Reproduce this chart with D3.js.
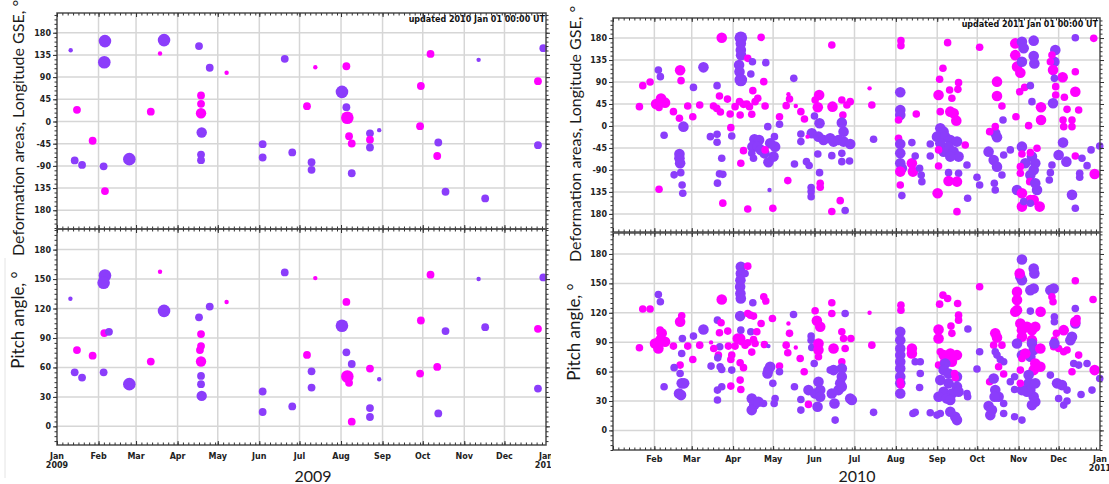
<!DOCTYPE html>
<html>
<head>
<meta charset="utf-8">
<script src="https://cdn.jsdelivr.net/npm/d3@7"></script>
<style>
body { margin: 0; background: #fff; }
svg { display: block; }
</style>
</head>
<body>
<script>
// tick values / labels
var lonTicks = [180, 135, 90, 45, 0, -45, -90, -135, -180];
var lonTickLabels = ["180", "135", "90", "45", "0", "-45", "-90", "135", "180"];
var pitchTicks = [180, 150, 120, 90, 60, 30, 0];
var pitchTickLabels = ["180", "150", "120", "90", "60", "30", "0"];

// points: [day of year, value, size class, type]  p = purple, m = magenta
var lon2009 = [
  [10.2,144.5,1,'p'],[35.8,163,4,'p'],[35.3,120,4,'p'],[76.9,138,1,'m'],[79.9,165,4,'p'],
  [106,153,2,'p'],[114,109,2,'p'],[126.6,98.7,1,'m'],[170,127,2,'p'],[14.9,23.7,2,'m'],
  [70,20,2,'m'],[107.5,52.7,2,'m'],[107.5,35.9,2,'m'],[107.5,16.8,3,'m'],[108,-22.3,3,'p'],
  [107.5,-67,2,'p'],[107.5,-78.4,2,'p'],[26.6,-39,2,'m'],[13.2,-79,2,'p'],[18.7,-88,2,'p'],
  [34.8,-91,2,'p'],[54,-76.4,4,'p'],[35.8,-141,2,'m'],[153.5,-46,2,'p'],[153.5,-73,2,'p'],
  [175.6,-62.8,2,'p'],[192.8,110,1,'m'],[216,112,2,'m'],[212.7,60,4,'p'],[216,29,2,'p'],
  [216.7,7.5,4,'m'],[218,-29.7,2,'m'],[220,-44.6,2,'m'],[186.6,31,2,'m'],[190,-82.5,2,'p'],
  [190,-98,2,'p'],[220,-105,2,'p'],[233.6,-24,2,'p'],[233.6,-37,2,'m'],[233.6,-52.7,2,'p'],
  [240.5,-17.6,1,'p'],[278.8,137,2,'m'],[271.6,72,2,'m'],[271,-9.5,2,'m'],[284.6,-42.6,2,'p'],
  [283.8,-70,2,'m'],[290,-142.5,2,'p'],[314.7,125,1,'p'],[319.6,-156,2,'p'],[363,148.6,2,'p'],
  [359,81.7,2,'m'],[359,-48,2,'p']
];
var pitch2009 = [
  [10,130,1,'p'],[14.9,77.7,2,'m'],[13.2,55,2,'p'],[18.7,49.7,2,'p'],[26.6,72,2,'m'],
  [35.8,153.7,4,'p'],[34.8,146.3,4,'p'],[35.3,95,2,'m'],[38.8,96.3,2,'p'],[34.8,55,2,'p'],
  [76.9,157.5,1,'m'],[79.9,117.6,4,'p'],[70,66,2,'m'],[54,43,4,'p'],[106,111,2,'p'],
  [114,122,2,'p'],[126.6,126.7,1,'m'],[107.5,94,2,'m'],[107.5,81.8,2,'m'],[106.7,77.7,2,'m'],
  [107.5,66,3,'m'],[107.5,51.4,2,'p'],[107.5,43,2,'p'],[108,31,3,'p'],[153.5,35.5,2,'p'],
  [153.5,14.6,2,'p'],[170,156.8,2,'p'],[175.6,20.3,2,'p'],[192.8,151,1,'m'],[216,126.7,2,'m'],
  [212.7,102.4,4,'p'],[216,75.4,2,'p'],[220,63.5,2,'p'],[216.7,50.7,4,'m'],[218,44.3,2,'m'],
  [220,4.8,2,'m'],[186.6,72.7,2,'m'],[190,56,2,'p'],[190,39.5,2,'p'],[233.6,58.8,2,'m'],
  [240.5,48,1,'p'],[233.6,18.6,2,'p'],[233.6,9.5,2,'p'],[278.8,154.5,2,'m'],[271.6,107.8,2,'m'],
  [271,53.7,2,'m'],[283.8,60.5,2,'m'],[290,97,2,'p'],[284.6,13.2,2,'p'],[314.7,150,1,'p'],
  [319.6,101,2,'p'],[363,151.7,2,'p'],[359,99.3,2,'m'],[359,38.5,2,'p']
];
var lon2010 = [
  [19.8,39.6,2,'m'],[22.3,82.5,2,'m'],[27.8,90,2,'m'],[34,114.6,2,'p'],[35.5,101,2,'p'],
  [32.3,45,3,'m'],[36,56,3,'m'],[39,47.7,3,'m'],[34.5,38,2,'m'],[34.5,-129.6,2,'m'],
  [38.3,-19,2,'p'],[45.3,29.3,2,'m'],[50.3,114,3,'m'],[51,92.8,2,'m'],[49.8,15.7,2,'m'],
  [52.8,-1.4,3,'p'],[49.8,-57.3,3,'p'],[49.8,-66,3,'p'],[50.3,-76.4,3,'p'],[45.8,-100,2,'p'],
  [50.8,-95.5,2,'p'],[51.8,-120.7,2,'p'],[52.3,-137.8,2,'p'],[56,41,2,'m'],[59.8,19,2,'m'],
  [60.3,79,2,'p'],[65,43,2,'m'],[67.8,120,3,'p'],[78,82.5,2,'p'],[79.8,61.4,2,'m'],
  [73,-21.8,2,'p'],[78,-17,2,'p'],[78,-33.4,2,'p'],[75.3,41,2,'m'],[77.8,36,2,'m'],
  [80.5,28.6,2,'m'],[82.3,-158,2,'m'],[81.5,-66,2,'p'],[79.8,-98,2,'p'],[82.3,-99,2,'p'],
  [78.3,-117,2,'p'],[85.8,55,2,'m'],[88.3,-3.4,2,'m'],[89,-20.5,2,'p'],[87.8,24.5,2,'m'],
  [91.5,39.6,2,'m'],[94.8,49.8,2,'m'],[97.8,44.3,2,'m'],[100.3,45,2,'m'],[102.3,39.6,2,'m'],
  [81.5,180.7,3,'m'],[95.8,180.7,4,'p'],[95.8,169,3,'p'],[95.8,155.5,3,'p'],[96,145,3,'p'],
  [94.5,124.8,3,'p'],[94.8,111,3,'p'],[95.8,94,4,'p'],[101,138.4,2,'m'],[104.5,131.6,2,'p'],
  [103.3,106.4,2,'p'],[111,181.4,2,'m'],[113,90.7,2,'m'],[114.5,129.6,2,'p'],[104.8,72.3,2,'m'],
  [108.5,56.6,2,'m'],[106.5,49.8,2,'m'],[114,41,2,'m'],[95.3,22.5,2,'m'],[104,23.9,2,'m'],
  [116,-1.4,2,'p'],[106,-27.3,3,'p'],[109.5,-28.6,3,'p'],[104.5,-42.3,3,'p'],[108.3,-42.3,3,'p'],
  [97.8,-50.5,2,'m'],[104,-56,2,'p'],[105.3,-66,2,'p'],[95.8,-76.4,2,'m'],[116.5,-74.3,3,'p'],
  [120.3,-62.7,3,'p'],[121.5,-42.3,3,'p'],[113.5,-56,3,'p'],[117.8,-35.5,3,'p'],[110.8,-49,3,'p'],
  [121,-21.8,2,'p'],[114,-49,2,'m'],[117.3,-131,1,'p'],[101,-170,2,'m'],[119.8,-168.5,2,'m'],
  [124.8,19,2,'m'],[124.8,3.4,2,'p'],[135.5,97.5,2,'p'],[129.8,41.6,2,'m'],[132.3,55.2,2,'m'],
  [131.5,64.8,1,'m'],[137,41,1,'m'],[140.8,29.3,2,'m'],[143.5,14.3,2,'m'],[136,-77.7,2,'p'],
  [131,-111.8,2,'m'],[140.8,-16.4,2,'p'],[140.8,-32,2,'p'],[145,-73,2,'p'],[147,-81,2,'p'],
  [148.5,-126,2,'p'],[148.5,-134,2,'p'],[148.5,-144.6,2,'p'],[154.5,63.4,3,'m'],[153.5,38.2,3,'m'],
  [151.5,53.2,2,'m'],[154.8,5.5,3,'p'],[151,20.5,2,'p'],[164.5,39.6,3,'m'],[164,165.7,2,'m'],
  [149,-15,3,'p'],[154,-21.8,3,'p'],[157.8,-28.6,3,'p'],[162.8,-25.2,3,'p'],[165.3,-32,3,'p'],
  [145.8,-21.8,1,'m'],[153.5,-57.3,2,'p'],[154.8,-95.5,2,'p'],[155.3,-117.3,2,'m'],[155.3,-125.5,2,'m'],
  [164,-60.7,2,'p'],[164,-175,2,'m'],[171.5,53.2,2,'m'],[175.3,43,2,'m'],[177.8,49.8,2,'m'],
  [172.3,22.5,2,'m'],[171.5,6.8,3,'p'],[172.8,-11.6,3,'p'],[169,-28.6,3,'p'],[172.8,-32,3,'p'],
  [177.8,-36.8,3,'p'],[171.5,-56,2,'p'],[171.5,-73,2,'p'],[177.3,-71.6,2,'p'],[170.3,-152.8,2,'m'],
  [174,-173,2,'p'],[192.3,77,1,'m'],[194,43,2,'m'],[195.3,-27.3,2,'p'],[215.8,174.6,2,'m'],
  [215.8,164.4,2,'m'],[215.3,68.9,3,'p'],[215.3,32.7,3,'p'],[215.3,22.5,3,'p'],[214,12.3,2,'m'],
  [227.3,24.5,2,'m'],[214,-25.2,2,'m'],[215.3,-36.8,3,'p'],[215.3,-56,3,'p'],[215.3,-76.4,3,'p'],
  [216.5,-86.6,3,'p'],[215.3,-93.4,3,'m'],[224,-76.4,3,'m'],[224.8,-93.4,3,'m'],[224,-34,2,'p'],
  [226.5,-61.4,2,'p'],[229.8,-86.6,2,'p'],[231,-100.3,2,'p'],[231.5,-113.9,2,'p'],[215.3,-120.7,2,'m'],
  [216.5,-142.5,2,'p'],[243.3,-137.8,3,'m'],[250.8,170.5,2,'m'],[247.3,118,2,'m'],[244.8,95.5,2,'m'],
  [244,63.4,3,'m'],[252.3,73.7,2,'m'],[259,88.7,2,'m'],[258.5,75,2,'m'],[254,56.6,2,'m'],
  [255.3,25.9,3,'m'],[257.3,10.9,3,'m'],[252.8,29.3,3,'m'],[245.3,29.3,2,'m'],
  [245.3,-4.8,3,'p'],[247.8,-11.6,3,'p'],[242.8,-21.8,3,'p'],[249,-21.8,3,'p'],[252.8,-28.6,3,'p'],
  [257.8,-32,3,'p'],[251.5,-42.3,3,'p'],[247.8,-52.5,3,'p'],[255.3,-52.5,3,'p'],[259,-62.7,3,'p'],
  [252.8,-62.7,3,'p'],[245.3,-35.5,3,'p'],[237.8,-36.8,2,'p'],[244,-49,2,'m'],[264,-38.9,2,'m'],
  [237.8,-61.4,2,'p'],[244,-81.8,2,'m'],[251.5,-95.5,2,'p'],[259,-96.8,2,'p'],[251.5,-112.5,3,'m'],
  [257.8,-113.9,3,'m'],[265.3,-79.8,2,'p'],[265.8,-148,2,'p'],[257.8,-175.3,2,'m'],[274.8,161,2,'m'],
  [272.8,-105,2,'p'],[274.8,-120.7,2,'p'],[281.5,-52.5,3,'p'],[286.5,-15,3,'p'],[287.8,-23.2,3,'p'],
  [285.3,-69.6,3,'p'],[287.8,-83.2,3,'p'],[282.3,-11.6,2,'m'],[287.8,90.7,3,'m'],[287.8,61.4,3,'m'],
  [286.5,-1.4,2,'m'],[291.5,41,2,'m'],[292.3,12.3,2,'p'],[292.8,-59.3,2,'p'],[297.8,-49,2,'p'],
  [285.8,-117.3,2,'p'],[286.5,-131,2,'p'],[291.5,-100.3,2,'p'],[302,19,2,'m'],[311.5,0.7,2,'m'],
  [301.5,169,3,'m'],[301.5,145,3,'m'],[302.8,121.4,3,'m'],[305.3,109,3,'m'],[306.5,172.5,3,'p'],
  [307.8,159,3,'p'],[315.3,174.6,3,'p'],[315.3,143,3,'p'],[315.8,128,3,'p'],[306.5,131.6,3,'p'],
  [304.8,70.2,2,'m'],[308.5,79,2,'m'],[312.8,82.5,2,'p'],[314,49.8,2,'p'],[320.8,38.2,3,'m'],
  [320.8,12.3,3,'m'],[306.5,-42.3,3,'p'],[314,-62.7,3,'p'],[316.5,-76.4,3,'p'],[315.3,-90,3,'p'],
  [312.8,-100.3,3,'p'],[309,-76.4,3,'p'],[306.5,-57.3,2,'m'],[312.8,-54.6,2,'m'],[317.8,-45.7,2,'m'],
  [305.3,-83.2,2,'m'],[305.3,-96.8,2,'m'],[312.3,-113.9,2,'m'],[302.8,-131,3,'p'],[306.5,-137.8,3,'m'],
  [306.5,-165,3,'m'],[312.8,-151.4,3,'m'],[319.8,-165,3,'m'],[315.3,-151.4,3,'m'],[317.8,-131,3,'p'],
  [316.5,-117.3,3,'p'],[307.8,-154.8,2,'p'],[312.8,-158.2,2,'p'],[331.5,155.5,3,'p'],[330.8,131.6,3,'p'],
  [329,145.3,2,'m'],[327.8,131.6,2,'m'],[329.8,114.6,3,'m'],[337,99.6,3,'m'],[330.8,97.5,2,'p'],
  [331.8,80.5,2,'m'],[331.8,63.4,2,'m'],[338.3,58.7,2,'m'],[346.5,111,2,'m'],[346.5,70.2,3,'m'],
  [329.8,46.4,3,'p'],[340.3,34,2,'m'],[349,32.7,2,'m'],[337.3,12.3,2,'m'],[344,12.3,2,'m'],
  [337.8,-1.4,2,'m'],[344,-1.4,2,'m'],[337.3,-34,3,'p'],[334,-59.3,3,'p'],[339.8,-73,3,'p'],
  [346.5,-61.4,2,'m'],[351.5,-66,2,'p'],[355.3,-81.2,2,'p'],[329,-79.8,2,'p'],[327.8,-95.5,2,'p'],
  [327,-110.5,2,'p'],[349.8,-96.8,2,'p'],[349.8,-105,2,'p'],[344,-141,3,'p'],[346.5,-168.5,2,'p'],
  [346.5,180.7,2,'p'],[360.3,179.4,2,'m'],[358.3,-49,2,'p'],[364.8,-41,2,'p'],[361,-98.2,3,'m']
];
var pitch2010 = [
  [19.8,84.3,2,'m'],[22.3,123.8,2,'m'],[27.8,123.8,2,'m'],[34,138.7,2,'p'],[35.5,131.2,2,'p'],
  [31.5,88.7,3,'m'],[35.3,92.1,3,'m'],[39,90.4,3,'m'],[34,83.6,3,'m'],[36.5,99,3,'m'],
  [35.3,102.3,2,'m'],[38.3,44.5,2,'p'],[45.3,86,2,'m'],[50.3,110.8,3,'m'],[51.5,117,2,'m'],
  [52,93.8,2,'p'],[51.5,78.5,2,'p'],[50.3,66.6,2,'m'],[45.8,64,2,'p'],[50.3,58.1,2,'p'],
  [51.5,48,3,'p'],[49.5,37.7,3,'p'],[51,36,3,'p'],[53.3,48,3,'p'],[56,86,2,'m'],
  [59.8,72.4,2,'m'],[60.3,96.2,2,'p'],[67.8,103,3,'p'],[65,87,2,'m'],[73.5,89.8,1,'m'],
  [73.5,65.6,2,'p'],[78.3,112.5,2,'p'],[80,85.3,2,'p'],[81,109.8,2,'m'],[79.8,99.6,2,'m'],
  [75.5,83.6,2,'m'],[79,76.8,2,'m'],[78.5,74,2,'p'],[80.3,65,2,'p'],[81.5,62.2,2,'p'],
  [78.3,41.1,2,'p'],[78.3,31,2,'p'],[81.5,44.5,2,'p'],[81.5,133.6,3,'m'],[86,101.3,2,'m'],
  [86.5,86,2,'m'],[89,76.8,2,'m'],[88.3,72.4,2,'m'],[89,61.5,2,'p'],[88.3,45.2,2,'m'],
  [91.5,86,2,'m'],[95.8,167,3,'p'],[95.8,160,3,'p'],[95.5,153.3,3,'p'],[95.3,146.5,3,'p'],
  [95.5,139.7,3,'p'],[95.8,134.6,3,'p'],[95.3,116.6,3,'p'],[99,160,2,'p'],[101,167.6,2,'m'],
  [101,119.3,2,'m'],[95.3,93.8,3,'m'],[93.5,93.8,3,'m'],[96.5,90.4,2,'m'],[99,87,2,'m'],
  [101,89.4,2,'m'],[95.8,102.3,2,'p'],[95.3,69,2,'m'],[97.8,64,2,'m'],[95.3,51.3,2,'m'],
  [95.8,41.8,2,'m'],[104.8,130.2,2,'p'],[103,117.6,2,'m'],[105.3,116.6,2,'m'],[103.3,100.6,2,'p'],
  [107.8,100.6,2,'m'],[105.3,92.8,2,'m'],[104,79.9,2,'m'],[111,109,2,'m'],[113,136.3,2,'m'],
  [114.5,132,2,'m'],[106.5,88.7,2,'m'],[104,32.6,3,'p'],[105.8,25.8,3,'p'],[104,20.7,3,'p'],
  [109,29.2,3,'p'],[112.8,27.5,2,'p'],[113.5,87.7,2,'m'],[116.5,86,1,'p'],[116.5,61.5,3,'p'],
  [117.8,65,3,'p'],[115.8,58.1,3,'p'],[119.5,114.2,2,'m'],[124.8,65.6,2,'m'],[124.8,59.8,2,'p'],
  [119.8,48,2,'p'],[121.5,32.6,2,'p'],[120.8,27.5,2,'p'],[135.3,118.3,2,'p'],[131.5,109,1,'m'],
  [132.3,99,2,'m'],[129.8,87,2,'m'],[131,79.2,2,'m'],[137,84.6,1,'m'],[140.3,73.4,2,'m'],
  [136,44.5,2,'p'],[140.8,31.6,2,'p'],[140.8,20.7,2,'p'],[143.3,59.8,2,'m'],[146.5,26.5,2,'m'],
  [148.5,96.2,2,'p'],[148.5,92.1,2,'p'],[149,84.6,2,'p'],[150.8,68.3,2,'p'],[146.5,41.1,3,'p'],
  [151.5,37.7,3,'p'],[155.3,41.1,3,'p'],[154,49.6,3,'p'],[155.3,34.3,3,'p'],[153.3,24.1,3,'p'],
  [152.8,111.8,3,'m'],[155.3,105.7,3,'m'],[151.5,122,2,'m'],[154,88.7,3,'m'],[154,82,3,'m'],
  [154,75.1,2,'m'],[162.8,61.5,2,'p'],[164,130.2,2,'m'],[164,119.3,2,'m'],[165.3,83.6,3,'m'],
  [164,37.7,3,'p'],[166,27.5,3,'p'],[166.5,10.5,2,'p'],[174,119.3,2,'p'],[171.5,100.6,2,'m'],
  [172.8,93.8,2,'m'],[178.3,93.8,2,'m'],[174,83.6,2,'m'],[171.5,70,2,'m'],[171.5,63.2,3,'p'],
  [171.5,54.7,3,'p'],[170.3,48,3,'p'],[169,41.1,3,'p'],[171.5,44.5,3,'p'],[165.3,61.5,3,'p'],
  [177.8,32.6,3,'p'],[179,31,3,'p'],[192.3,120,1,'m'],[194,87,2,'m'],[195.3,18.4,2,'p'],
  [215.8,127.8,2,'m'],[215.8,122.7,2,'m'],[215.3,100.6,3,'p'],[215.3,92.1,3,'p'],[215.3,83.6,3,'p'],
  [215.3,76.8,3,'p'],[215.3,70,3,'p'],[215.3,63.2,3,'p'],[215.3,54.7,3,'p'],[215.3,48,3,'p'],
  [215.3,37.7,3,'p'],[224,83.6,3,'m'],[224,78.5,3,'m'],[215.3,49.6,2,'m'],[215.8,46.2,2,'m'],
  [226.5,70,2,'p'],[230.3,70,2,'p'],[230.3,58.1,2,'p'],[229.8,43.8,2,'p'],[224.8,17.3,2,'p'],
  [226.5,18.4,2,'p'],[247.3,138,2,'m'],[250.8,134.6,2,'m'],[244.8,128.8,2,'m'],[258.3,129.5,2,'m'],
  [259,117.6,2,'m'],[259,112.5,2,'m'],[253.3,106.4,2,'m'],[254,99,2,'m'],[244,103,3,'m'],
  [244,93.8,3,'m'],[266,103.4,2,'p'],[247.8,76.8,3,'m'],[252.8,78.5,3,'m'],[257.8,76.8,3,'m'],
  [249,70,3,'m'],[254,70,3,'m'],[244,66.6,2,'m'],[245.3,80.2,2,'m'],[249,68.3,3,'p'],
  [247.8,61.5,3,'p'],[251.5,58.1,3,'p'],[257.8,54.7,3,'p'],[245.3,51.3,3,'p'],[251.5,48,3,'p'],
  [257.8,44.5,3,'p'],[247.8,39.4,3,'p'],[254,37.7,3,'p'],[259,39.4,3,'p'],[244,34.3,3,'p'],
  [250.3,32.6,3,'p'],[252.8,31,3,'p'],[256,58.1,2,'m'],[256.5,54,2,'m'],[265.3,37.7,2,'p'],
  [265.8,34.3,2,'p'],[237.8,18,2,'p'],[242.8,15.6,2,'p'],[245.3,17.3,2,'p'],[252.8,19,3,'p'],
  [256.5,14,3,'p'],[257.8,10.5,3,'p'],[274.8,146.5,2,'m'],[274.8,80.2,2,'p'],[272.8,62.6,2,'p'],
  [286.5,99,3,'m'],[287.8,94.9,3,'m'],[285.3,87,2,'m'],[291.5,87,2,'m'],[286.5,80.2,2,'p'],
  [287.8,76.8,2,'p'],[290.3,72.4,2,'p'],[292.8,70,2,'p'],[289,65,2,'m'],[282.3,49.6,2,'m'],
  [285.3,53,3,'p'],[286.5,41.1,3,'p'],[289,34.3,3,'p'],[286,34.3,3,'p'],[292.8,57.5,2,'m'],
  [281.5,24.8,3,'p'],[282.8,15.6,3,'p'],[284,20.7,3,'p'],[292.8,27.5,2,'p'],[292.8,17.3,2,'p'],
  [297.8,49.6,2,'p'],[301,41.8,2,'p'],[301,14,2,'p'],[306.5,174.4,3,'p'],[305.3,156.7,3,'p'],
  [306.5,153.3,3,'p'],[315.3,165.2,3,'p'],[315.8,160.1,3,'p'],[315.3,144.8,3,'p'],[312.8,143.1,3,'p'],
  [304.8,160.1,3,'m'],[302.8,141.4,3,'m'],[302.8,133,3,'m'],[302.8,122.7,3,'m'],[301.5,121,3,'m'],
  [305.3,109,3,'m'],[306.5,102.3,3,'m'],[306.5,95.5,3,'m'],[314,102.3,3,'m'],[314,92.1,3,'m'],
  [310.3,105.7,3,'m'],[316.5,105.7,3,'m'],[320.5,121,3,'m'],[312.8,121.7,2,'p'],[302.8,88.7,3,'p'],
  [314,88.7,3,'p'],[315.3,82,3,'p'],[312.8,75.1,3,'p'],[306.5,76.8,3,'p'],[309,78.5,3,'m'],
  [320.3,83.6,3,'m'],[320.3,65,3,'m'],[316.5,68.3,3,'m'],[315.3,61.5,3,'m'],[306.5,73.4,2,'m'],
  [305.3,61.5,2,'m'],[311.5,56.4,3,'p'],[311.5,48,3,'p'],[312.8,41.1,3,'p'],[316.5,48,3,'p'],
  [315.3,34.3,3,'p'],[316.5,29.2,3,'p'],[314,25.8,3,'p'],[310.3,39.4,3,'p'],[306.5,41.1,3,'p'],
  [305.3,48,2,'m'],[306.5,10.5,2,'p'],[301,54.7,2,'p'],[327.8,143.1,3,'p'],[330.3,144.8,3,'p'],
  [329,136.3,2,'m'],[329.8,131.2,2,'m'],[330.8,115.9,2,'p'],[330.8,110.8,2,'p'],[337.8,102.3,3,'m'],
  [332.3,99,2,'m'],[330.8,92.1,2,'m'],[330.3,85.3,2,'m'],[334,83.6,2,'m'],[337.8,80.2,2,'m'],
  [340.3,82,2,'m'],[346.5,152.7,2,'m'],[347.8,114.2,2,'m'],[346.5,124.4,2,'p'],[346.5,109,3,'p'],
  [346.5,110.8,3,'m'],[330.8,88.7,3,'p'],[344,95.5,3,'p'],[342.8,92.1,3,'p'],[349,76.8,2,'m'],
  [344,59.8,2,'m'],[345.3,68.3,2,'p'],[349,66.6,2,'p'],[332.8,48,3,'p'],[336.5,46.2,3,'p'],
  [327.8,56.4,2,'p'],[340.3,41.1,2,'p'],[334,32.6,2,'p'],[337.8,25.8,2,'p'],[340.3,30,2,'p'],
  [350.8,36.7,2,'p'],[355.3,68.3,2,'p'],[359.8,133.6,2,'m'],[361,61.5,3,'m'],[359,41.1,2,'p'],
  [364.8,53,2,'p']
];

var color = d3.scaleOrdinal().domain(["p", "m"]).range(["#8b3dfb", "#ff00ff"]);

var svg = d3.select("body").append("svg")
    .attr("width", 1109)
    .attr("height", 484);

function dayDate(year, d) {
  return new Date(+new Date(year, 0, 1) + d * 864e5);
}

function subplot(g, year, x, y, ticks, labels, minorStep, data, r) {
  var xr = x.range(), yr = y.range();
  var dom = x.domain();
  var months = d3.timeMonth.range(dom[0], dom[1]);
  var days = d3.timeDay.every(4).range(dom[0], dom[1]);

  // grid
  g.append("g").selectAll("line").data(months.slice(1)).join("line")
      .attr("x1", function(d) { return x(d); }).attr("x2", function(d) { return x(d); })
      .attr("y1", yr[1]).attr("y2", yr[0])
      .attr("stroke", "#d6d6d6").attr("stroke-width", 1.5);
  g.append("g").selectAll("line").data(ticks).join("line")
      .attr("x1", xr[0]).attr("x2", xr[1])
      .attr("y1", function(d) { return y(d); }).attr("y2", function(d) { return y(d); })
      .attr("stroke", "#d6d6d6").attr("stroke-width", 1.5);

  // the dots
  g.append("g").selectAll("circle").data(data).join("circle")
      .attr("cx", function(d) { return x(dayDate(year, d[0])); })
      .attr("cy", function(d) { return y(d[1]); })
      .attr("r", function(d) { return r(d[2]); })
      .attr("fill", function(d) { return color(d[3]); });

  // frame
  g.append("rect")
      .attr("x", xr[0]).attr("y", yr[1])
      .attr("width", xr[1] - xr[0]).attr("height", yr[0] - yr[1])
      .attr("fill", "none").attr("stroke", "#4d4d4d").attr("stroke-width", 1.5);

  var yd = y.domain();
  var minor = d3.range(Math.ceil(yd[0] / minorStep) * minorStep, yd[1], minorStep);

  var axes = g.append("g").attr("class", "ax");
  axes.append("g").attr("transform", "translate(" + xr[0] + ",0)")
      .call(d3.axisLeft(y).tickValues(minor).tickSize(2.5).tickFormat(""));
  axes.append("g").attr("transform", "translate(" + xr[0] + ",0)")
      .call(d3.axisLeft(y).tickValues(ticks).tickSize(4).tickPadding(2)
            .tickFormat(function(d, i) { return labels[i]; }));
  axes.append("g").attr("transform", "translate(" + xr[1] + ",0)")
      .call(d3.axisRight(y).tickValues(minor).tickSize(2.5).tickFormat(""));
  axes.append("g").attr("transform", "translate(" + xr[1] + ",0)")
      .call(d3.axisRight(y).tickValues(ticks).tickSize(4).tickFormat(""));
  axes.append("g").attr("transform", "translate(0," + yr[1] + ")")
      .call(d3.axisBottom(x).tickValues(days).tickSize(2.5).tickFormat(""));
  axes.append("g").attr("transform", "translate(0," + yr[1] + ")")
      .call(d3.axisBottom(x).tickValues(months).tickSize(4).tickFormat(""));
  axes.append("g").attr("transform", "translate(0," + yr[0] + ")")
      .call(d3.axisTop(x).tickValues(days).tickSize(2.5).tickFormat(""));
  axes.append("g").attr("transform", "translate(0," + yr[0] + ")")
      .call(d3.axisTop(x).tickValues(months).tickSize(4).tickFormat(""));

  axes.selectAll(".domain").remove();
  axes.selectAll(".tick line").attr("stroke", "#333");
  axes.selectAll("text")
      .attr("font-family", "DejaVu Sans, Verdana, sans-serif")
      .attr("font-weight", "bold")
      .attr("font-size", 8)
      .attr("fill", "#222");
}

function monthLabels(g, x, yBase, skipFirst) {
  var dom = x.domain();
  var months = d3.timeMonth.range(dom[0], dom[1]).concat([dom[1]]);
  if (skipFirst) months = months.slice(1);
  var t = g.append("g").selectAll("text").data(months).join("text")
      .attr("x", function(d) { return x(d); })
      .attr("y", yBase)
      .attr("text-anchor", "middle")
      .attr("font-family", "DejaVu Sans, Verdana, sans-serif")
      .attr("font-weight", "bold")
      .attr("font-size", 8)
      .attr("fill", "#222");
  t.append("tspan").text(d3.timeFormat("%b"));
  t.filter(function(d) { return d.getMonth() === 0; })
    .append("tspan")
      .attr("x", function(d) { return x(d); })
      .attr("dy", 9)
      .text(d3.timeFormat("%Y"));
}

function axisTitle(g, text, cx, cy, size) {
  g.append("text")
      .attr("transform", "translate(" + cx + "," + cy + ") rotate(-90)")
      .attr("text-anchor", "middle")
      .attr("dy", "0.35em")
      .attr("font-family", "Lato, 'Open Sans', sans-serif")
      .attr("font-size", size)
      .attr("fill", "#1a1a1a")
      .text(text);
}

// ---------- left panel: 2009 ----------
svg.append("clipPath").attr("id", "leftclip")
  .append("rect").attr("x", 0).attr("y", 0).attr("width", 551).attr("height", 484);
var left = svg.append("g").attr("clip-path", "url(#leftclip)");

var x09 = d3.scaleTime().domain([new Date(2009, 0, 1), new Date(2010, 0, 1)]).range([57, 546]);
var yLon09 = d3.scaleLinear().domain([-218, 220]).range([229, 13]);
var yPitch09 = d3.scaleLinear().domain([-19, 201]).range([445, 229]);
var r09 = d3.scaleOrdinal().domain([1, 2, 3, 4]).range([2.2, 3.9, 5.2, 6.3]);

left.append("line").attr("x1", 5).attr("x2", 5).attr("y1", 258).attr("y2", 478)
    .attr("stroke", "#e4e4e4").attr("stroke-width", 1);

subplot(left, 2009, x09, yLon09, lonTicks, lonTickLabels, 9, lon2009, r09);
subplot(left, 2009, x09, yPitch09, pitchTicks, pitchTickLabels, 5, pitch2009, r09);
monthLabels(left, x09, 459, false);

left.append("text")
    .attr("x", 545).attr("y", 22)
    .attr("text-anchor", "end")
    .attr("font-family", "DejaVu Sans, Verdana, sans-serif")
    .attr("font-weight", "bold").attr("font-size", 8).attr("fill", "#111")
    .text("updated 2010 Jan 01 00:00 UT");

axisTitle(left, "Deformation areas, Longitude GSE, °", 18, 128, 16);
axisTitle(left, "Pitch angle, °", 18, 320, 17);

left.append("text")
    .attr("x", 313).attr("y", 482)
    .attr("text-anchor", "middle")
    .attr("font-family", "Lato, 'Open Sans', sans-serif")
    .attr("font-size", 16).attr("fill", "#1a1a1a")
    .text("2009");

// ---------- right panel: 2010 ----------
var right = svg.append("g");

var x10 = d3.scaleTime().domain([new Date(2010, 0, 1), new Date(2011, 0, 1)]).range([613, 1100]);
var yLon10 = d3.scaleLinear().domain([-217, 221]).range([232, 18]);
var yPitch10 = d3.scaleLinear().domain([-20, 201.4]).range([450, 233]);
var r10 = d3.scaleOrdinal().domain([1, 2, 3, 4]).range([2.2, 3.8, 5.3, 6.3]);

subplot(right, 2010, x10, yLon10, lonTicks, lonTickLabels, 9, lon2010, r10);
subplot(right, 2010, x10, yPitch10, pitchTicks, pitchTickLabels, 5, pitch2010, r10);
monthLabels(right, x10, 462, true);

right.append("text")
    .attr("x", 1098).attr("y", 27)
    .attr("text-anchor", "end")
    .attr("font-family", "DejaVu Sans, Verdana, sans-serif")
    .attr("font-weight", "bold").attr("font-size", 8).attr("fill", "#111")
    .text("updated 2011 Jan 01 00:00 UT");

axisTitle(right, "Deformation areas, Longitude GSE, °", 575, 134, 16);
axisTitle(right, "Pitch angle, °", 574, 332, 17);

right.append("text")
    .attr("x", 857).attr("y", 482)
    .attr("text-anchor", "middle")
    .attr("font-family", "Lato, 'Open Sans', sans-serif")
    .attr("font-size", 16).attr("fill", "#1a1a1a")
    .text("2010");
</script>
</body>
</html>
